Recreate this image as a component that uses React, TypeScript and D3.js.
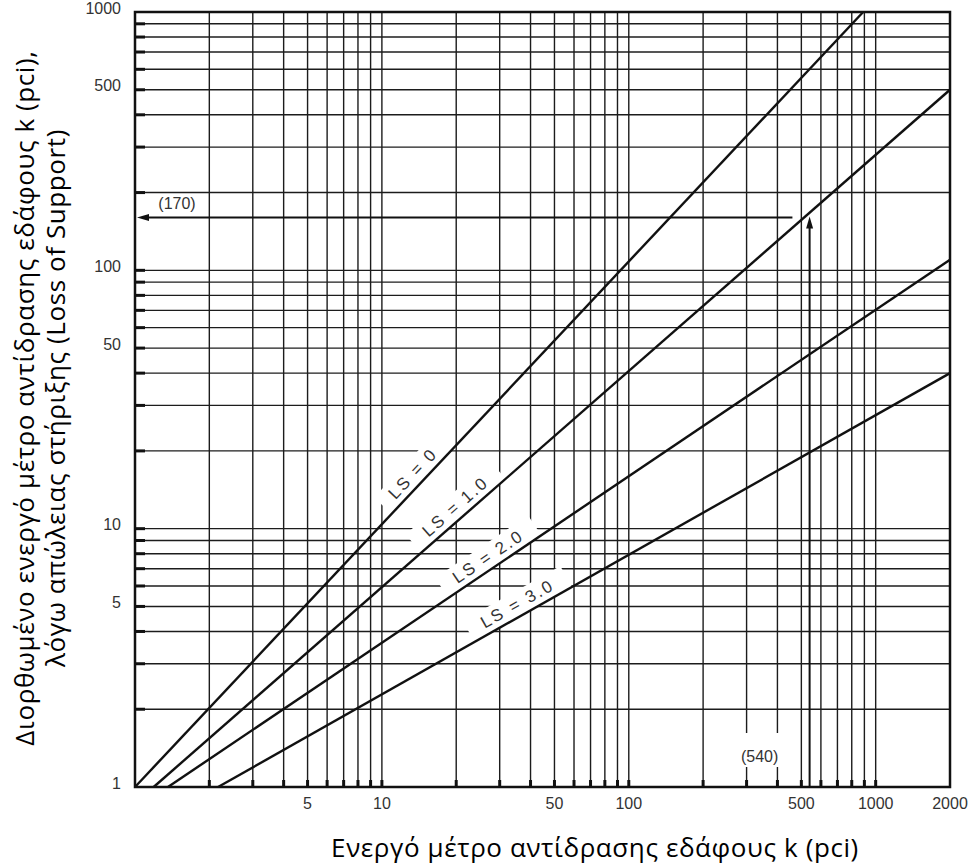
import React from "react";
import * as d3 from "d3";

// grid values (k, pci) drawn on the log-log paper
const xGrid = [2, 3, 4, 5, 6, 7, 8, 9, 10, 20, 30, 40, 50, 60, 70, 80, 90, 100, 200, 300, 400, 500, 600, 700, 800, 900, 1000];
const yGrid = [2, 3, 4, 5, 6, 7, 8, 9, 10, 20, 30, 40, 50, 60, 70, 80, 90, 100, 200, 300, 400, 500, 600, 700, 800, 900];
const xTickLabels = [5, 10, 50, 100, 500, 1000, 2000];
const yTickLabels = [1, 5, 10, 50, 100, 500, 1000];

// LS curves, start and end points
const lsNames = ["LS = 0", "LS = 1.0", "LS = 2.0", "LS = 3.0"];
const lsStartK = [1, 1.19, 1.36, 2.17];
const lsStartKc = [1, 1, 1, 1];
const lsEndK = [890, 2000, 2000, 2000];
const lsEndKc = [1000, 500, 110, 40];
const lsLabelK = [14.5, 21.4, 28.7, 37.4];

// worked example
const exampleK = 540;
const exampleKc = 160;
const exampleArrowStartK = 460;
const exampleKLabel = "(540)";
const exampleKcLabel = "(170)";

const xTitle = "Ενεργό μέτρο αντίδρασης εδάφους k (pci)";
const yTitle1 = "Διορθωμένο ενεργό μέτρο αντίδρασης εδάφους k (pci),";
const yTitle2 = "λόγω απώλειας στήριξης (Loss of Support)";

const width = 970;
const height = 867;
const left = 135, right = 950, top = 12, bottom = 787;

const App = () => {
  const x = d3.scaleLog().domain([1, 2000]).range([left, right]);
  const y = d3.scaleLog().domain([1, 1000]).range([bottom, top]);

  const gridColor = "#1c1c1c";
  const tickFont = "'Liberation Sans', Arial, sans-serif";
  const titleFont = "'Open Sans', sans-serif";

  const lines = lsNames.map((name, i) => {
    const x1 = x(lsStartK[i]), y1 = y(lsStartKc[i]);
    const x2 = x(lsEndK[i]), y2 = y(lsEndKc[i]);
    const slope = (y2 - y1) / (x2 - x1);
    const rad = Math.atan(slope);
    const angle = (rad * 180) / Math.PI;
    const lx = x(lsLabelK[i]);
    const ly = y1 + slope * (lx - x1);
    // push label off the line, up-left, perpendicular
    const off = 12;
    const cx = lx + off * Math.sin(rad);
    const cy = ly - off * Math.cos(rad);
    return { name, x1, y1, x2, y2, angle, cx, cy };
  });

  const ax = x(exampleK);
  const ay = y(exampleKc);

  return (
    <svg width={width} height={height} style={{ position: "absolute", left: 0, top: 0, background: "#fff" }}>
      <rect x={0} y={0} width={width} height={height} fill="#fff" />

      {/* grid */}
      <g stroke={gridColor} strokeWidth={1.4}>
        {xGrid.map((d) => (
          <line key={"vx" + d} x1={x(d)} x2={x(d)} y1={top} y2={bottom} />
        ))}
        {yGrid.map((d) => (
          <line key={"hy" + d} x1={left} x2={right} y1={y(d)} y2={y(d)} />
        ))}
      </g>

      {/* heavy stubs on the frame */}
      <g stroke="#111" strokeWidth={3}>
        {xGrid.map((d) => (
          <line key={"sx" + d} x1={x(d)} x2={x(d)} y1={bottom} y2={bottom - 7} />
        ))}
        {yGrid.map((d) => (
          <line key={"sy" + d} x1={left} x2={left + 10} y1={y(d)} y2={y(d)} />
        ))}
      </g>

      {/* label backgrounds cut the grid */}
      {lines.map((l) => (
        <rect
          key={"bg" + l.name}
          x={-(l.name.length * 6 + 8)}
          y={-12}
          width={2 * (l.name.length * 6 + 8)}
          height={24}
          fill="#fff"
          transform={`translate(${l.cx},${l.cy}) rotate(${l.angle})`}
        />
      ))}
      <rect x={ax - 78} y={bottom - 54} width={56} height={34} fill="#fff" />

      {/* LS lines */}
      <g stroke="#111" strokeWidth={2.4}>
        {lines.map((l) => (
          <line key={l.name} x1={l.x1} y1={l.y1} x2={l.x2} y2={l.y2} />
        ))}
      </g>

      {lines.map((l) => (
        <text
          key={"t" + l.name}
          transform={`translate(${l.cx},${l.cy}) rotate(${l.angle})`}
          textAnchor="middle"
          dominantBaseline="central"
          fontFamily={tickFont}
          fontSize={17}
          letterSpacing={2.2}
          fill="#333"
        >
          {l.name}
        </text>
      ))}

      {/* example arrows */}
      <g stroke="#111" strokeWidth={2}>
        <line x1={ax} x2={ax} y1={bottom} y2={ay + 8} />
        <line x1={x(exampleArrowStartK)} x2={left + 10} y1={ay} y2={ay} />
      </g>
      <path d={`M${ax},${ay - 1} L${ax - 3.5},${ay + 11} L${ax + 3.5},${ay + 11} Z`} fill="#111" />
      <path d={`M${left + 2},${ay} L${left + 14},${ay - 3.5} L${left + 14},${ay + 3.5} Z`} fill="#111" />
      <text x={ax - 50} y={bottom - 31} textAnchor="middle" dominantBaseline="central" fontFamily={tickFont} fontSize={16} fill="#333">
        {exampleKLabel}
      </text>
      <text x={left + 42} y={ay - 14} textAnchor="middle" dominantBaseline="central" fontFamily={tickFont} fontSize={16} fill="#333">
        {exampleKcLabel}
      </text>

      {/* frame */}
      <rect x={left} y={top} width={right - left} height={bottom - top} fill="none" stroke="#111" strokeWidth={2.5} />

      {/* tick labels */}
      {xTickLabels.map((d) => (
        <text key={"xl" + d} x={x(d)} y={bottom + 16} textAnchor="middle" dominantBaseline="central" fontFamily={tickFont} fontSize={16} fill="#333">
          {d}
        </text>
      ))}
      {yTickLabels.map((d) => (
        <text key={"yl" + d} x={121} y={y(d) - 4} textAnchor="end" dominantBaseline="central" fontFamily={tickFont} fontSize={16} fill="#333">
          {d}
        </text>
      ))}

      {/* axis titles */}
      <text x={595} y={857} textAnchor="middle" fontFamily={titleFont} fontSize={26} letterSpacing={0.6} fill="#000">
        {xTitle}
      </text>
      <g transform="translate(34,398) rotate(-90)">
        <text x={0} y={0} textAnchor="middle" fontFamily={titleFont} fontSize={26} letterSpacing={0.6} fill="#000">
          {yTitle1}
        </text>
        <text x={0} y={31} textAnchor="middle" fontFamily={titleFont} fontSize={26} letterSpacing={0.6} fill="#000">
          {yTitle2}
        </text>
      </g>
    </svg>
  );
};

export default App;
